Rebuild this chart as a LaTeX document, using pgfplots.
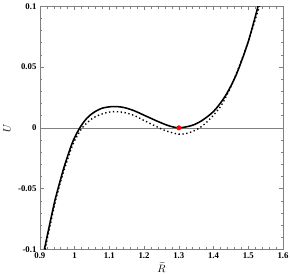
\documentclass[border=0pt]{standalone}
\usepackage{fontspec}
\setmainfont{Liberation Serif}
\usepackage{pgfplots}
\pgfplotsset{compat=1.18}
\begin{document}
\begin{tikzpicture}[x=1bp,y=1bp]
\begin{axis}[
  scale only axis, width=249bp, height=249bp,
  xmin=0.9, xmax=1.6, ymin=-0.1, ymax=0.1,
  xtick={0.9,1,1.1,1.2,1.3,1.4,1.5,1.6},
  xticklabels={0.9,1,1.1,1.2,1.3,1.4,1.5,1.6},
  ytick={-0.1,-0.05,0,0.05,0.1},
  yticklabels={-0.1,-0.05,0,0.05,0.1},
  minor x tick num=4, minor y tick num=4,
  tick align=inside, ticks=both,
  major tick length=4bp, minor tick length=2.5bp,
  every tick/.style={gray, line width=0.5pt},
  axis line style={gray, line width=0.6pt},
  tick label style={font=\fontsize{9}{10}\selectfont\bfseries},
  xticklabel style={inner sep=1.5bp, yshift=-1.5bp},
  /pgf/number format/assume math mode=true,
  xlabel={$\widetilde{R}$}, ylabel={$U$},
  label style={font=\fontsize{10.5}{11}\selectfont},
  xlabel style={yshift=-1bp, inner sep=1bp},
  ylabel style={yshift=1bp},
  clip=true,
]
\draw[gray, line width=0.5pt] (axis cs:0.9,0) -- (axis cs:1.6,0);
\addplot[black, line width=1.6pt, smooth] coordinates {
(0.913,-0.1) (0.93,-0.077) (0.944,-0.059) (0.96,-0.042) (0.97,-0.032)
(0.985,-0.019) (0.996,-0.0105) (1.015,0) (1.035,0.0078) (1.055,0.0126)
(1.08,0.0162) (1.111,0.0175) (1.14,0.0168) (1.17,0.0142) (1.205,0.0097)
(1.24,0.0052) (1.27,0.0018) (1.30,0) (1.336,0.0018) (1.364,0.0055)
(1.40,0.0135) (1.43,0.0245) (1.45,0.0345) (1.47,0.0470) (1.50,0.0710) (1.528,0.1)
};
\addplot[black, line width=1.4pt, dash pattern=on 1.4pt off 2.6pt, smooth] coordinates {
(0.915,-0.1) (0.932,-0.077) (0.946,-0.059) (0.962,-0.042) (0.973,-0.032)
(0.988,-0.019) (1.0,-0.0105) (1.022,0) (1.05,0.0075) (1.08,0.0115)
(1.11,0.0133) (1.14,0.0127) (1.17,0.0103) (1.2,0.0060) (1.23,0.0018)
(1.26,-0.0022) (1.30,-0.0052) (1.33,-0.0040) (1.36,0) (1.388,0.0068)
(1.42,0.0175) (1.443,0.0296) (1.462,0.042) (1.49,0.063) (1.51,0.080) (1.532,0.1)
};
\addplot[only marks, mark=*, mark size=2.3pt, color=red] coordinates {(1.3,0)};
\end{axis}
\end{tikzpicture}
\end{document}
